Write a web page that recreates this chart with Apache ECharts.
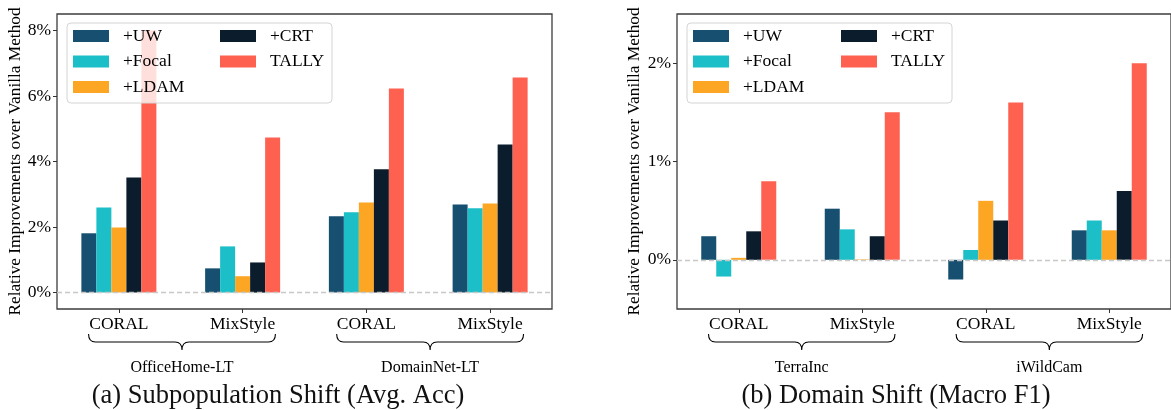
<!DOCTYPE html>
<html>
<head>
<meta charset="utf-8">
<script src="https://cdn.jsdelivr.net/npm/echarts@6/dist/echarts.min.js"></script>
<style>
  html, body { margin: 0; padding: 0; background: #fff; }
  #main { width: 1171px; height: 410px; }
</style>
</head>
<body>
<div id="main"></div>
<script>
// categories: method per dataset
const categories = ['CORAL', 'MixStyle', 'CORAL', 'MixStyle'];
const methods = ['+UW', '+Focal', '+LDAM', '+CRT', 'TALLY'];
const colors = ['#164f6f', '#1cbfc7', '#fca624', '#0b1d2c', '#fe6150'];

// (a) subpopulation shift, avg acc improvement (%)
const subGroups = ['OfficeHome-LT', 'DomainNet-LT'];
const subUW = [1.81, 0.74, 2.33, 2.69];
const subFocal = [2.60, 1.41, 2.45, 2.57];
const subLDAM = [1.99, 0.50, 2.75, 2.72];
const subCRT = [3.51, 0.92, 3.76, 4.52];
const subTALLY = [8.00, 4.73, 6.23, 6.56];
const subTicks = [0, 2, 4, 6, 8];

// (b) domain shift, macro F1 improvement (%)
const domGroups = ['TerraInc', 'iWildCam'];
const domUW = [0.24, 0.52, -0.20, 0.30];
const domFocal = [-0.17, 0.31, 0.10, 0.40];
const domLDAM = [0.02, 0.005, 0.60, 0.30];
const domCRT = [0.29, 0.24, 0.40, 0.70];
const domTALLY = [0.80, 1.50, 1.60, 2.00];
const domTicks = [0, 1, 2];

// brace spans in category index units (from first label to second label)
const braceStart = [-0.245, 1.76];
const braceEnd = [1.265, 3.27];

const FONT = '"Liberation Serif", "Times New Roman", serif';

const chart = echarts.init(document.getElementById('main'));

function barSeries(name, data, idx, color) {
  return {
    name: name,
    type: 'bar',
    xAxisIndex: idx,
    yAxisIndex: idx,
    data: data,
    barWidth: 15,
    barGap: '0%',
    itemStyle: { color: color },
    silent: true
  };
}

function braceRender(groups) {
  return function (params, api) {
    const cs = params.coordSys;
    const base = cs.y + cs.height;
    const x1 = api.coord([api.value(0), 0])[0];
    const x2 = api.coord([api.value(1), 0])[0];
    const xm = (x1 + x2) / 2;
    const top = base + 25, mid = base + 33, tip = base + 41, r = 7;
    const d = 'M' + x1 + ' ' + top +
      ' Q' + x1 + ' ' + mid + ' ' + (x1 + r) + ' ' + mid +
      ' L' + (xm - r) + ' ' + mid +
      ' Q' + xm + ' ' + mid + ' ' + xm + ' ' + tip +
      ' Q' + xm + ' ' + mid + ' ' + (xm + r) + ' ' + mid +
      ' L' + (x2 - r) + ' ' + mid +
      ' Q' + x2 + ' ' + mid + ' ' + x2 + ' ' + top;
    return {
      type: 'group',
      children: [
        { type: 'path', shape: { pathData: d }, style: { fill: null, stroke: '#000', lineWidth: 1.1 } },
        {
          type: 'text',
          style: {
            text: groups[params.dataIndex], x: xm, y: base + 59,
            align: 'center', verticalAlign: 'middle',
            font: '16px ' + FONT, fill: '#000'
          }
        }
      ]
    };
  };
}

function braceSeries(idx, groups) {
  return {
    type: 'custom',
    xAxisIndex: idx + 2,
    yAxisIndex: idx,
    clip: false,
    silent: true,
    encode: { x: [0, 1], y: 2 },
    data: braceStart.map((s, i) => [s, braceEnd[i], 0]),
    renderItem: braceRender(groups)
  };
}

function yAxis(idx, min, max, ticks, gap) {
  return {
    type: 'value',
    gridIndex: idx,
    min: min,
    max: max,
    name: 'Relative Improvements over Vanilla Method',
    nameLocation: 'middle',
    nameGap: gap,
    nameTextStyle: { fontFamily: FONT, fontSize: 17.3, color: '#000' },
    axisLine: { show: false, onZero: false },
    axisTick: { show: true, length: 4, customValues: ticks, lineStyle: { color: '#333' } },
    axisLabel: {
      customValues: ticks, margin: 6, formatter: v => v + '%',
      fontFamily: FONT, fontSize: 17.5, color: '#000'
    },
    splitLine: { show: false }
  };
}

function catAxis(idx) {
  return {
    type: 'category',
    gridIndex: idx,
    data: categories,
    axisLine: { show: false, onZero: false },
    axisTick: { show: true, alignWithLabel: true, length: 4, lineStyle: { color: '#333' } },
    axisLabel: { margin: 6, fontFamily: FONT, fontSize: 17.5, color: '#000', interval: 0 }
  };
}

function helperAxis(idx) {
  return { type: 'value', gridIndex: idx, min: -0.5, max: 3.5, show: false, axisLine: { onZero: false } };
}

const zeroLine = {
  silent: true,
  symbol: 'none',
  label: { show: false },
  lineStyle: { color: '#c8c8c8', type: [5, 3], width: 1.3 },
  data: [{ yAxis: 0 }]
};

const series = [];
[[subUW, subFocal, subLDAM, subCRT, subTALLY], [domUW, domFocal, domLDAM, domCRT, domTALLY]].forEach((set, g) => {
  set.forEach((d, i) => {
    const s = barSeries(methods[i], d, g, colors[i]);
    if (i === set.length - 1) s.markLine = zeroLine;
    series.push(s);
  });
});
series.push(braceSeries(0, subGroups));
series.push(braceSeries(1, domGroups));

function legend(left, names) {
  return {
    left: left,
    top: 27,
    orient: 'vertical',
    padding: 0,
    z: 10,
    icon: 'rect',
    itemWidth: 36,
    itemHeight: 12,
    itemGap: 7.5,
    selectedMode: false,
    data: names,
    textStyle: { fontFamily: FONT, fontSize: 17.5, color: '#000', lineHeight: 18, padding: [0, 0, 0, 9] }
  };
}

const frameStyle = { fill: 'rgba(255,255,255,0.8)', stroke: '#d4d4d4', lineWidth: 1 };

chart.setOption({
  animation: false,
  grid: [
    { left: 57, top: 14, width: 495, height: 295, show: true, borderColor: '#3c3c3c', borderWidth: 1.3, backgroundColor: 'transparent' },
    { left: 677, top: 14, width: 496, height: 295, show: true, borderColor: '#3c3c3c', borderWidth: 1.3, backgroundColor: 'transparent' }
  ],
  xAxis: [catAxis(0), catAxis(1), helperAxis(0), helperAxis(1)],
  yAxis: [yAxis(0, -0.5, 8.5, subTicks, 32), yAxis(1, -0.5, 2.5, domTicks, 34)],
  legend: [
    legend(73, methods.slice(0, 3)),
    legend(220, methods.slice(3)),
    legend(693, methods.slice(0, 3)),
    legend(841, methods.slice(3))
  ],
  graphic: [
    { type: 'rect', z: 8, shape: { x: 67, y: 23, width: 265, height: 80, r: 4 }, style: frameStyle },
    { type: 'rect', z: 8, shape: { x: 687, y: 23, width: 265, height: 80, r: 4 }, style: frameStyle },
    { type: 'text', x: 278, y: 396, style: { text: '(a) Subpopulation Shift (Avg. Acc)', align: 'center', verticalAlign: 'middle', font: '26.5px ' + FONT, fill: '#111' } },
    { type: 'text', x: 896, y: 396, style: { text: '(b) Domain Shift (Macro F1)', align: 'center', verticalAlign: 'middle', font: '26.5px ' + FONT, fill: '#111' } }
  ],
  series: series
});
</script>
</body>
</html>
